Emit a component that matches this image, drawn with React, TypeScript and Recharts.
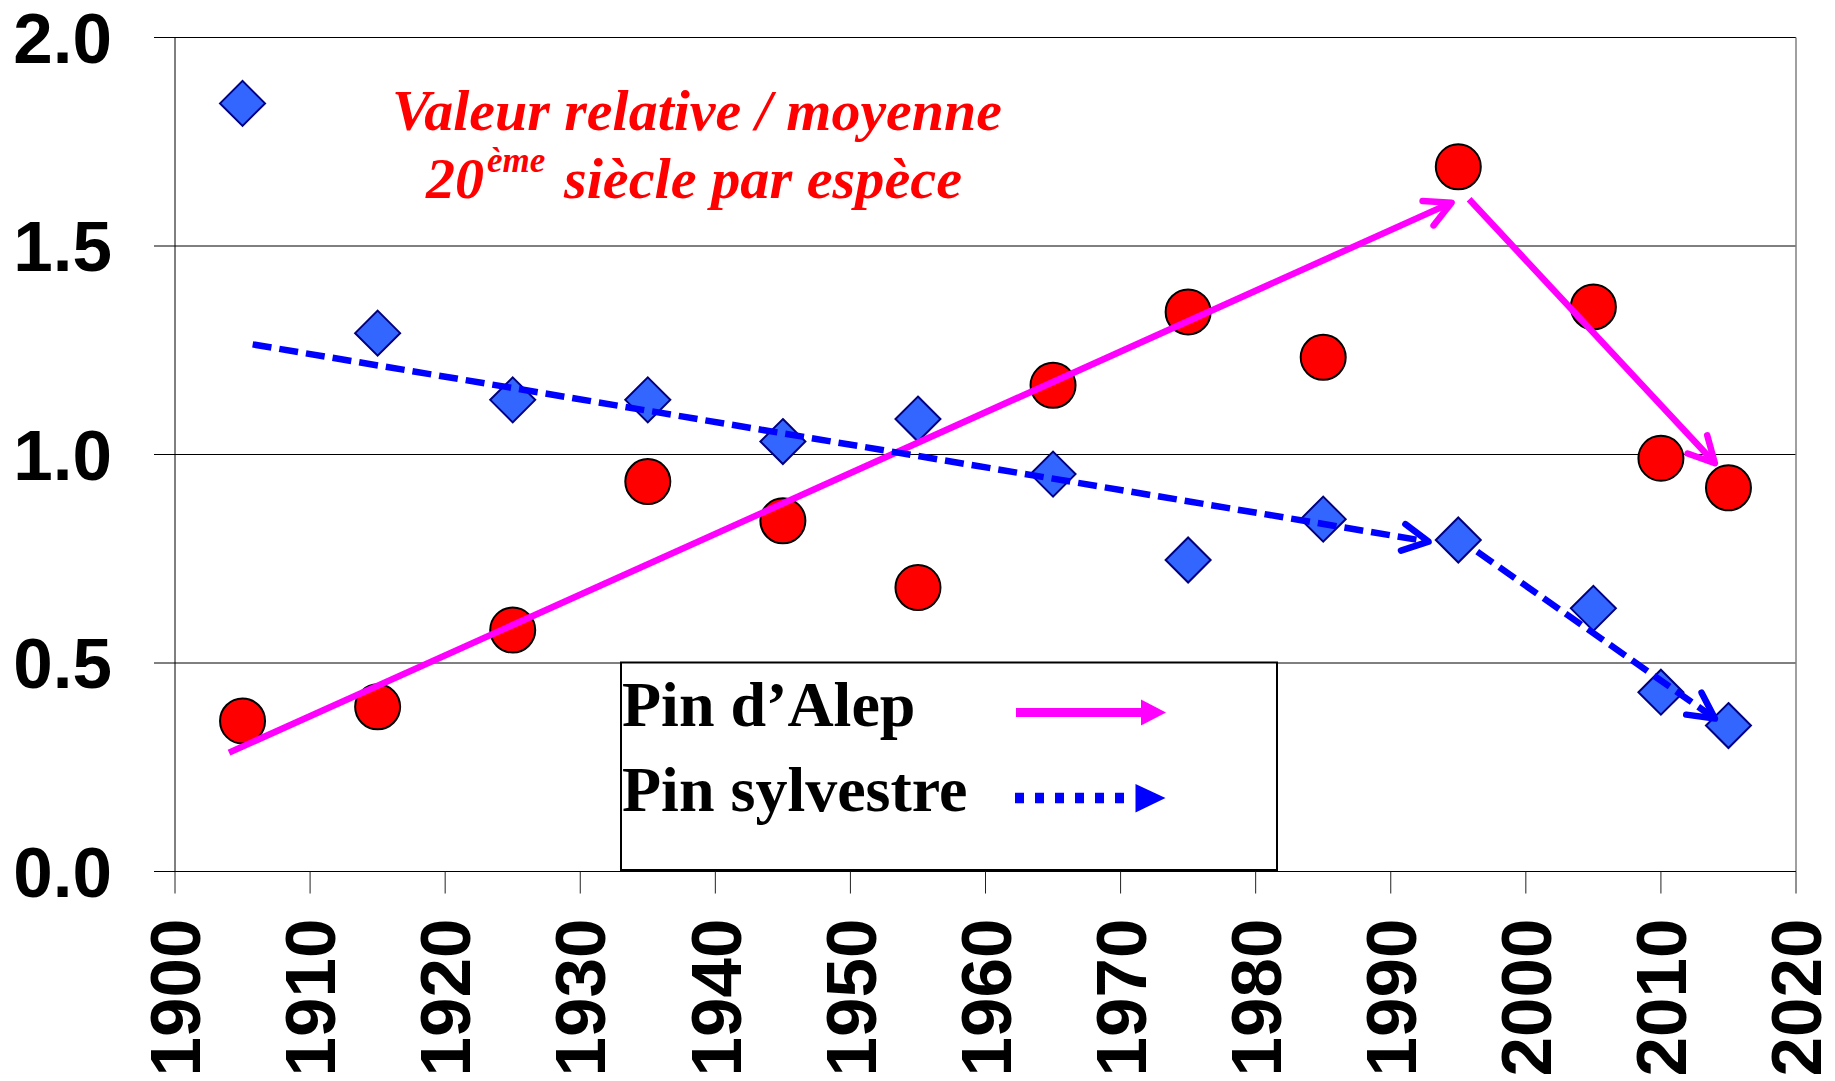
import React from "react";
import {
  ScatterChart,
  Scatter,
  XAxis,
  YAxis,
  CartesianGrid,
  ReferenceLine,
} from "recharts";

// values (relative to 20th-century mean per species)
const years = [1905, 1915, 1925, 1935, 1945, 1955, 1965, 1975, 1985, 1995, 2005, 2010, 2015];
const alepValues = [0.361, 0.395, 0.579, 0.935, 0.841, 0.681, 1.166, 1.342, 1.233, 1.69, 1.354, 0.991, 0.92];
const sylvestreValues = [1.842, 1.291, 1.131, 1.131, 1.031, 1.085, 0.953, 0.747, 0.845, 0.795, 0.631, 0.43, 0.35];

const xTicks = [1900, 1910, 1920, 1930, 1940, 1950, 1960, 1970, 1980, 1990, 2000, 2010, 2020];
const yTicks = [0, 0.5, 1, 1.5, 2];

// hand-drawn trend arrows, start/end in data units
const alepTrend = [
  [{ x: 1904.0, y: 0.285 }, { x: 1994.5, y: 1.604 }],
  [{ x: 1995.8, y: 1.612 }, { x: 2014.0, y: 0.979 }],
];
const sylvestreTrend = [
  [{ x: 1905.75, y: 1.264 }, { x: 1992.8, y: 0.791 }],
  [{ x: 1996.4, y: 0.767 }, { x: 2014.0, y: 0.367 }],
];

const alepData = years.map((x, i) => ({ x, y: alepValues[i] }));
const sylvestreData = years.map((x, i) => ({ x, y: sylvestreValues[i] }));

const C = {
  alep: "#ff00ff",
  sylvestre: "#0000ff",
  dot: "#ff0000",
  diamond: "#3366ff",
  diamondStroke: "#000080",
};

const SANS = '"Liberation Sans", Arial, sans-serif';
const SERIF = '"Liberation Serif", "Times New Roman", serif';

function Circle(p: any) {
  return <circle cx={p.cx} cy={p.cy} r={22.5} fill={C.dot} stroke="#000" strokeWidth={2} />;
}

function Diamond(p: any) {
  const h = 22.5;
  const { cx, cy } = p;
  return (
    <polygon
      points={`${cx},${cy - h} ${cx + h},${cy} ${cx},${cy + h} ${cx - h},${cy}`}
      fill={C.diamond}
      stroke={C.diamondStroke}
      strokeWidth={2}
    />
  );
}

function arrow(color: string, dash?: string) {
  return (p: any) => {
    const { x1, y1, x2, y2 } = p;
    if (x1 == null) return null;
    const a = Math.atan2(y2 - y1, x2 - x1);
    const L = 29;
    const s = 0.48;
    const ax = x2 - L * Math.cos(a - s);
    const ay = y2 - L * Math.sin(a - s);
    const bx = x2 - L * Math.cos(a + s);
    const by = y2 - L * Math.sin(a + s);
    const ex = x2 - 3 * Math.cos(a);
    const ey = y2 - 3 * Math.sin(a);
    return (
      <g>
        <line x1={x1} y1={y1} x2={ex} y2={ey} stroke={color} strokeWidth={6.5} strokeDasharray={dash} />
        <polyline
          points={`${ax},${ay} ${x2},${y2} ${bx},${by}`}
          fill="none"
          stroke={color}
          strokeWidth={6.5}
          strokeLinecap="round"
          strokeLinejoin="round"
        />
      </g>
    );
  };
}

function XTick(p: any) {
  const { x, y, payload } = p;
  return (
    <text
      transform={`translate(${x},${y}) rotate(-90)`}
      textAnchor="end"
      dy="0.355em"
      fontFamily={SANS}
      fontWeight="bold"
      fontSize={71}
      fill="#000"
    >
      {payload.value}
    </text>
  );
}

function Overlay() {
  return (
    <svg
      width={1835}
      height={1081}
      style={{ position: "absolute", left: 0, top: 0, pointerEvents: "none" }}
    >
      {/* note in red */}
      <g fill="#ff0000" fontFamily={SERIF} fontWeight="bold" fontStyle="italic">
        <text x={392} y={130} fontSize={58} textLength={610} lengthAdjust="spacingAndGlyphs">
          Valeur relative / moyenne
        </text>
        <text x={426} y={198} fontSize={58}>
          20
        </text>
        <text x={487} y={172} fontSize={35}>
          ème
        </text>
        <text x={564} y={198} fontSize={58} textLength={398} lengthAdjust="spacingAndGlyphs">
          siècle par espèce
        </text>
      </g>

      {/* legend box */}
      <rect x={621} y={662.5} width={656} height={207.5} fill="#fff" stroke="#000" strokeWidth={2} />
      <g fill="#000" fontFamily={SERIF} fontWeight="bold" fontSize={64}>
        <text x={622} y={726}>
          Pin d’Alep
        </text>
        <text x={622} y={811}>
          Pin sylvestre
        </text>
      </g>
      <line x1={1016} y1={712.5} x2={1142} y2={712.5} stroke={C.alep} strokeWidth={9} />
      <polygon points="1141,699.5 1166,712.5 1141,725.5" fill={C.alep} />
      <line
        x1={1015}
        y1={798}
        x2={1134}
        y2={798}
        stroke={C.sylvestre}
        strokeWidth={10.5}
        strokeDasharray="9 11"
      />
      <polygon points="1135.5,784 1165.5,798 1135.5,812.5" fill={C.sylvestre} />
    </svg>
  );
}

export default function App() {
  return (
    <div
      style={{
        position: "absolute",
        left: 0,
        top: 0,
        width: 1835,
        height: 1081,
        background: "#fff",
      }}
    >
      <ScatterChart
        width={1835}
        height={1081}
        margin={{ top: 37.5, right: 39, bottom: 0, left: 0 }}
      >
        <CartesianGrid vertical={false} stroke="#000" strokeWidth={1} />
        <XAxis
          type="number"
          dataKey="x"
          domain={[1900, 2020]}
          ticks={xTicks}
          interval={0}
          height={209.5}
          tickSize={22}
          tickMargin={25}
          tick={<XTick />}
          axisLine={{ stroke: "#000" }}
          tickLine={{ stroke: "#222" }}
          allowDataOverflow
        />
        <YAxis
          type="number"
          dataKey="y"
          domain={[0, 2]}
          ticks={yTicks}
          interval={0}
          width={175}
          tickSize={21}
          tickMargin={42}
          tickFormatter={(v) => Number(v).toFixed(1)}
          tick={{ fontSize: 71, fontWeight: "bold", fill: "#000", fontFamily: SANS }}
          axisLine={{ stroke: "#000" }}
          tickLine={{ stroke: "#000" }}
          allowDataOverflow
        />
        <ReferenceLine x={2020} stroke="#808080" strokeWidth={1.5} />

        <Scatter name="Pin d’Alep" data={alepData} shape={Circle} isAnimationActive={false} />
        <Scatter name="Pin sylvestre" data={sylvestreData} shape={Diamond} isAnimationActive={false} />

        {alepTrend.map((seg, i) => (
          <ReferenceLine key={`a${i}`} segment={seg} shape={arrow(C.alep)} zIndex={1000} />
        ))}
        {sylvestreTrend.map((seg, i) => (
          <ReferenceLine
            key={`s${i}`}
            segment={seg}
            shape={arrow(C.sylvestre, "19 8")}
            zIndex={1000}
          />
        ))}
      </ScatterChart>
      <Overlay />
    </div>
  );
}
